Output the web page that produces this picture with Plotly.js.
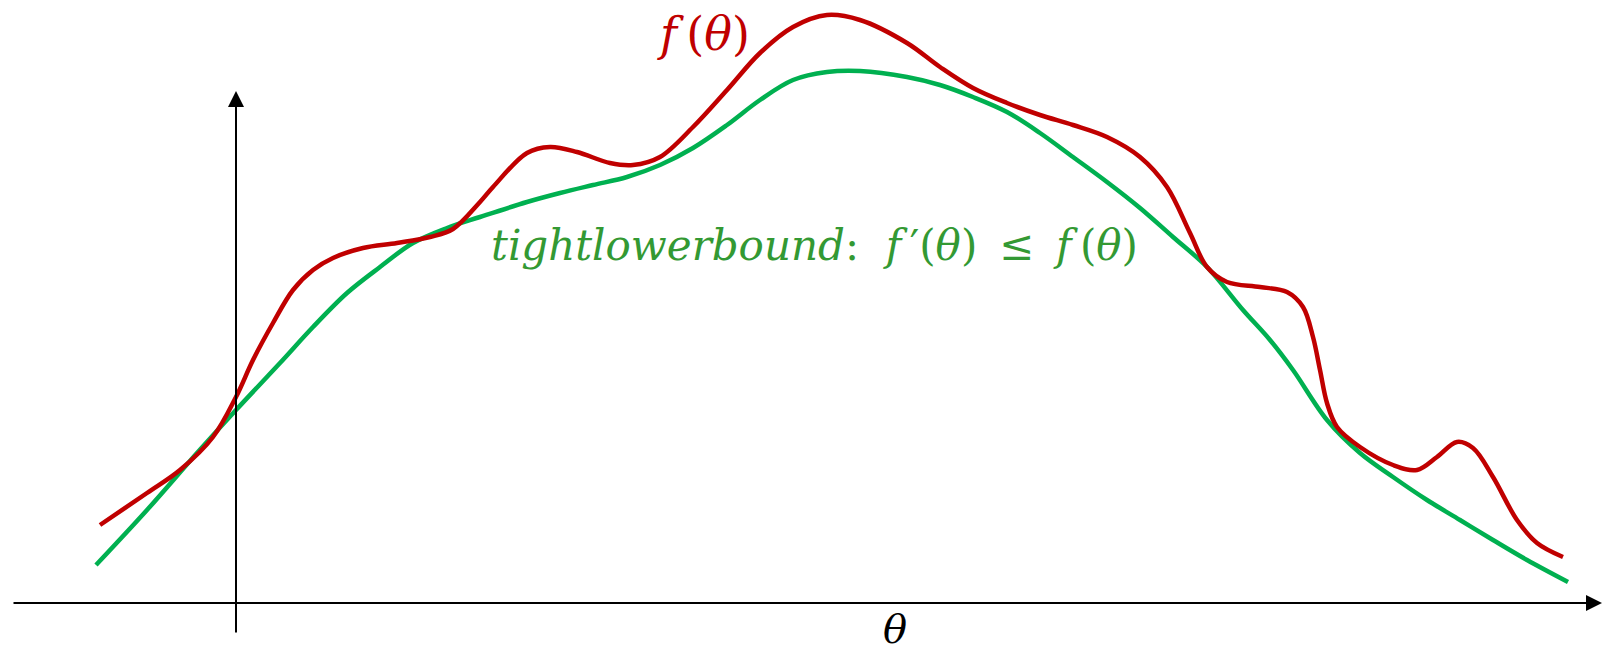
<!DOCTYPE html>
<html>
<head>
<meta charset="utf-8">
<script src="https://cdn.plot.ly/plotly-3.0.1.min.js"></script>
<style>
  html, body { margin: 0; padding: 0; background: #fff; }
  #chart { width: 1604px; height: 654px; }
</style>
</head>
<body>
<div id="chart"></div>
<script>
// f(theta)
var theta_f = [-1.36, -0.89, -0.56, -0.23, 0.00, 0.17, 0.37, 0.57, 0.77, 0.97, 1.27, 1.61, 1.94,
  2.17, 2.44, 2.57, 2.91, 3.14, 3.41, 3.74, 3.97, 4.24, 4.57, 4.91, 5.24, 5.57, 5.91, 6.24,
  6.71, 7.04, 7.37, 7.71, 8.04, 8.37, 8.71, 9.04, 9.31, 9.54, 9.71, 9.91, 10.24, 10.51, 10.67,
  10.77, 10.84, 10.91, 11.01, 11.24, 11.57, 11.81, 12.01, 12.21, 12.37, 12.57, 12.81, 13.01, 13.27];
var f_vals = [0.78, 1.10, 1.33, 1.66, 2.06, 2.43, 2.80, 3.13, 3.33, 3.45, 3.55, 3.60, 3.66,
  3.74, 4.01, 4.16, 4.50, 4.56, 4.51, 4.40, 4.38, 4.46, 4.76, 5.13, 5.50, 5.76, 5.88, 5.83,
  5.60, 5.36, 5.15, 5.00, 4.88, 4.78, 4.66, 4.46, 4.16, 3.70, 3.36, 3.21, 3.16, 3.11, 2.96,
  2.66, 2.33, 2.00, 1.76, 1.56, 1.38, 1.33, 1.46, 1.61, 1.55, 1.26, 0.83, 0.60, 0.46];

// tight lower bound f'(theta)
var theta_lb = [-1.40, -0.89, -0.39, 0.00, 0.44, 0.77, 1.11, 1.44, 1.77, 2.11, 2.44, 2.91, 3.24,
  3.57, 3.91, 4.24, 4.57, 4.91, 5.24, 5.57, 5.91, 6.24, 6.71, 7.04, 7.37, 7.71, 8.04, 8.37, 8.71,
  9.04, 9.37, 9.71, 10.07, 10.34, 10.57, 10.91, 11.24, 11.57, 11.91, 12.24, 12.57, 12.91, 13.32];
var lb_vals = [0.38, 0.93, 1.50, 1.93, 2.40, 2.76, 3.10, 3.36, 3.60, 3.75, 3.86, 4.01, 4.10,
  4.18, 4.26, 4.38, 4.55, 4.78, 5.03, 5.23, 5.31, 5.32, 5.26, 5.18, 5.06, 4.91, 4.70, 4.46, 4.21,
  3.95, 3.66, 3.36, 2.93, 2.63, 2.33, 1.83, 1.50, 1.26, 1.03, 0.83, 0.63, 0.43, 0.21];

// axis extents (start, arrow tip)
var theta_axis = [-2.24, 13.66];
var f_axis = [-0.31, 5.12];

var red = '#C00000';
var green = '#00B050';
var mathFont = '"DejaVu Serif", "Liberation Serif", serif';

var f_curve = {
  x: theta_f,
  y: f_vals,
  mode: 'lines',
  type: 'scatter',
  line: {color: red, width: 4.5, shape: 'spline', smoothing: 1},
  hoverinfo: 'skip'
};
var lb_curve = {
  x: theta_lb,
  y: lb_vals,
  mode: 'lines',
  type: 'scatter',
  line: {color: green, width: 4.5, shape: 'spline', smoothing: 1},
  hoverinfo: 'skip'
};

var hidden = {
  visible: false,
  showgrid: false,
  zeroline: false,
  fixedrange: true
};

var layout = {
  width: 1604,
  height: 654,
  margin: {l: 0, r: 0, t: 0, b: 0},
  paper_bgcolor: '#fff',
  plot_bgcolor: '#fff',
  showlegend: false,
  xaxis: Object.assign({range: [-2.36, 13.68]}, hidden),
  yaxis: Object.assign({range: [-0.51, 6.03]}, hidden),
  annotations: [
    // horizontal axis with arrow
    {x: theta_axis[1], y: 0, ax: theta_axis[0], ay: 0, axref: 'x', ayref: 'y',
     xref: 'x', yref: 'y', text: '', showarrow: true, arrowhead: 2, arrowsize: 1.6,
     arrowwidth: 2, arrowcolor: '#000', standoff: 0, startstandoff: 0},
    // vertical axis with arrow
    {x: 0, y: f_axis[1], ax: 0, ay: f_axis[0], axref: 'x', ayref: 'y',
     xref: 'x', yref: 'y', text: '', showarrow: true, arrowhead: 2, arrowsize: 1.6,
     arrowwidth: 2, arrowcolor: '#000', standoff: 0, startstandoff: 0},
    {x: 4.67, y: 5.69, xref: 'x', yref: 'y', showarrow: false,
     text: '<i>f</i>\u2009(<i>θ</i>)',
     font: {family: mathFont, size: 46, color: red}},
    {x: 5.78, y: 3.58, xref: 'x', yref: 'y', showarrow: false,
     text: '<i>tightlowerbound</i>:\u00a0 <i>f</i>\u2009′(<i>θ</i>)\u2009 ≤ \u2009<i>f</i>\u2009(<i>θ</i>)',
     font: {family: mathFont, size: 42, color: '#339933'}},
    {x: 6.59, y: -0.26, xref: 'x', yref: 'y', showarrow: false,
     text: '<i>θ</i>',
     font: {family: mathFont, size: 40, color: '#000'}}
  ]
};

Plotly.newPlot('chart', [lb_curve, f_curve], layout, {displayModeBar: false, staticPlot: true});
</script>
</body>
</html>
